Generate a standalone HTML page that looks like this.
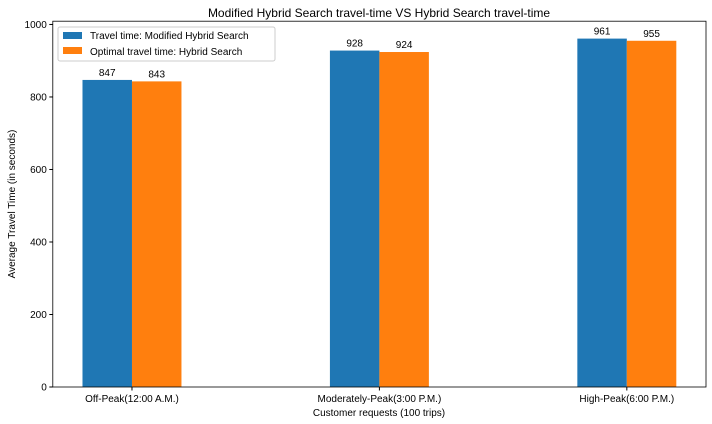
<!DOCTYPE html>
<html><head><meta charset="utf-8"><style>
body{margin:0;background:#fff;}
svg{display:block;font-family:"Liberation Sans","DejaVu Sans",sans-serif;}
</style></head><body>
<svg id="chart" width="712" height="424" viewBox="0 0 712 424">
<text x="379" y="17" text-anchor="middle" font-size="12">Modified Hybrid Search travel-time VS Hybrid Search travel-time</text>
<g id="plot"></g>
<text x="379" y="416" text-anchor="middle" font-size="10">Customer requests (100 trips)</text>
<text transform="translate(15,204) rotate(-90)" text-anchor="middle" font-size="10">Average Travel Time (in seconds)</text>
<g>
<rect x="58" y="27" width="217" height="34" fill="#fff" stroke="#ccc" rx="2"/>
<g>
<rect x="63" y="32" width="19" height="7" fill="#1f77b4"/>
<text x="90" y="39" font-size="10">Travel time: Modified Hybrid Search</text></g>
<g>
<rect x="63" y="47" width="19" height="7" fill="#ff7f0e"/>
<text x="90" y="55" font-size="10">Optimal travel time: Hybrid Search</text></g>
</g>
</svg>
<script>
const categories=["Off-Peak(12:00 A.M.)","Moderately-Peak(3:00 P.M.)","High-Peak(6:00 P.M.)"];
const modified=[847,928,961];
const hybrid=[843,924,955];
const yTicks=[0,200,400,600,800,1000];
const NS="http://www.w3.org/2000/svg";
const L=52.8,R=706,T=21.2,B=387;
const xmin=-0.32,xmax=2.32,ymax=1009;
const x=v=>L+(v-xmin)/(xmax-xmin)*(R-L);
const y=v=>B-v/ymax*(B-T);
const g=document.getElementById('plot');
function el(t,a,p){const e=document.createElementNS(NS,t);for(const k in a)e.setAttribute(k,a[k]);(p||g).appendChild(e);return e;}
const w=0.2;
categories.forEach((c,i)=>{
 [[modified,'#1f77b4',-w/2,'bar-modified-'],[hybrid,'#ff7f0e',w/2,'bar-hybrid-']].forEach(([s,col,off,nm])=>{
  const r=el('rect',{x:x(i+off-w/2),y:y(s[i]),width:x(i+off+w/2)-x(i+off-w/2),height:B-y(s[i]),fill:col});
  
  
  const t=el('text',{x:x(i+off),y:y(s[i])-4,'text-anchor':'middle','font-size':10});
  t.textContent=s[i];
  
  
 });
 el('line',{x1:x(i),x2:x(i),y1:B,y2:B+3.5,stroke:'#000'});
 const t=el('text',{x:x(i),y:B+15,'text-anchor':'middle','font-size':10});
 t.textContent=c;
 
 
});
yTicks.forEach(v=>{
 el('line',{x1:L-3.5,x2:L,y1:y(v),y2:y(v),stroke:'#000'});
 const t=el('text',{x:L-6,y:y(v)+3.5,'text-anchor':'end','font-size':10});
 t.textContent=v;
 
 
});
const f=el('rect',{x:L,y:T,width:R-L,height:B-T,fill:'none',stroke:'#000','stroke-width':0.8});


</script>
</body></html>
